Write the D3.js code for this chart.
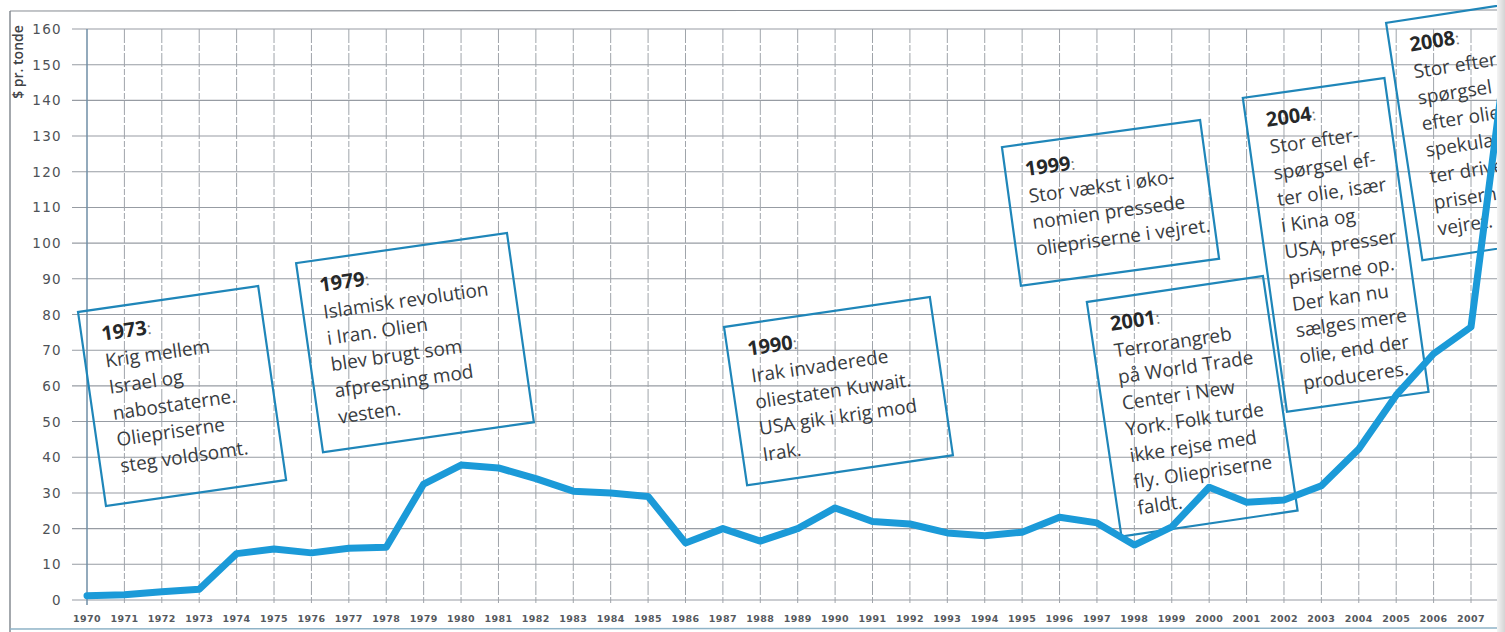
<!DOCTYPE html>
<html>
<head>
<meta charset="utf-8">
<script src="https://cdn.jsdelivr.net/npm/d3@7"></script>
<style>
  body { margin: 0; background: #fff; }
  svg { display: block; }
</style>
</head>
<body>
<svg id="chart" width="1505" height="632"></svg>
<script>
// oil price, $ pr. tonde
const years = d3.range(1970, 2009);
const prices = [1.2, 1.5, 2.3, 3, 13, 14.3, 13.2, 14.5, 14.8, 32.5,
  37.8, 37, 34, 30.5, 30, 29, 16, 20, 16.5, 20,
  25.8, 22, 21.3, 18.8, 18, 19, 23.2, 21.6, 15.4, 20.5,
  31.6, 27.4, 28, 32, 42.3, 57.4, 69, 76.5, 158];
const yTicks = d3.range(0, 161, 10);
const xTickYears = d3.range(1970, 2008);
const yTitle = "$ pr. tonde";

const noteYears = ["1973", "1979", "1990", "1999", "2001", "2004", "2008"];
const noteLines = [
  ["Krig mellem", "Israel og", "nabostaterne.", "Oliepriserne", "steg voldsomt."],
  ["Islamisk revolution", "i Iran. Olien", "blev brugt som", "afpresning mod", "vesten."],
  ["Irak invaderede", "oliestaten Kuwait.", "USA gik i krig mod", "Irak."],
  ["Stor vækst i øko-", "nomien pressede", "oliepriserne i vejret."],
  ["Terrorangreb", "på World Trade", "Center i New", "York. Folk turde", "ikke rejse med", "fly. Oliepriserne", "faldt."],
  ["Stor efter-", "spørgsel ef-", "ter olie, især", "i Kina og", "USA, presser", "priserne op.", "Der kan nu", "sælges mere", "olie, end der", "produceres."],
  ["Stor efter-", "spørgsel", "efter olie,", "spekulan-", "ter driver", "priserne i", "vejret."]
];

// layout of the tilted note boxes: top-left corner in data space, size in px, tilt
const noteAnchor = [[1969.76, 80.7], [1975.59, 94.4], [1987.03, 76.5], [1994.46, 126.9],
  [1996.73, 83.5], [2000.9, 140.7], [2004.73, 161.7]];
const noteSize = [[182, 196], [213, 191], [208, 160], [200, 140], [178, 237], [143, 317], [215, 240]];
const noteTilt = [-8.2, -8.1, -8.3, -7.8, -8.4, -8, -8.7];

const svg = d3.select('#chart');
const x = d3.scaleLinear().domain([1970, 2007]).range([87, 1471]);
const y = d3.scaleLinear().domain([0, 160]).range([600, 29]);

// paper edge shading + frame
const defs = svg.append('defs');
defs.append('clipPath').attr('id', 'paper')
  .append('rect').attr('x', 0).attr('y', 0).attr('width', 1497).attr('height', 632);
const grad = defs.append('linearGradient').attr('id', 'edge');
grad.append('stop').attr('offset', 0).attr('stop-color', '#f4f4f4');
grad.append('stop').attr('offset', 1).attr('stop-color', '#d4d4d4');
svg.append('rect').attr('x', 1497).attr('y', 0).attr('width', 8).attr('height', 632)
  .attr('fill', 'url(#edge)');

const g = svg.append('g').attr('clip-path', 'url(#paper)');

g.append('line').attr('x1', 10).attr('x2', 1505).attr('y1', 11).attr('y2', 10)
  .attr('stroke', '#8a8f96').attr('stroke-width', 1.2);
g.append('line').attr('x1', 10).attr('x2', 10).attr('y1', 11).attr('y2', 632)
  .attr('stroke', '#7d838a').attr('stroke-width', 1.4);
g.append('line').attr('x1', 10).attr('x2', 1505).attr('y1', 629).attr('y2', 628)
  .attr('stroke', '#8fb3c7').attr('stroke-width', 1.5);

// grid
g.append('g')
  .selectAll('line')
  .data(yTicks)
  .join('line')
    .attr('x1', 72).attr('x2', 1505)
    .attr('y1', d => y(d)).attr('y2', d => y(d))
    .attr('stroke', '#979ca3').attr('stroke-width', 1.1);

g.append('g')
  .selectAll('line')
  .data(xTickYears)
  .join('line')
    .attr('x1', d => x(d)).attr('x2', d => x(d))
    .attr('y1', y(160)).attr('y2', y(0) + 5)
    .attr('stroke', d => d === 1970 ? '#6f8ea6' : '#9fa4aa')
    .attr('stroke-width', d => d === 1970 ? 1.5 : 1)
    .attr('stroke-dasharray', d => d === 1970 ? null : '14 2 6 2');

// axis labels
svg.append('g')
  .selectAll('text')
  .data(yTicks)
  .join('text')
    .attr('x', 62).attr('y', d => y(d) + 5)
    .attr('text-anchor', 'end')
    .attr('fill', '#4e5257')
    .style('font', '13.5px "DejaVu Sans"')
    .style('letter-spacing', '1.3px')
    .text(d => d);

svg.append('g')
  .selectAll('text')
  .data(xTickYears)
  .join('text')
    .attr('x', d => x(d)).attr('y', 622)
    .attr('text-anchor', 'middle')
    .attr('fill', '#55595e')
    .style('font', 'bold 9.5px "DejaVu Sans"')
    .style('letter-spacing', '0.4px')
    .text(d => d);

svg.append('text')
  .attr('transform', 'translate(23,62) rotate(-90)')
  .attr('text-anchor', 'middle')
  .attr('fill', '#3f4347')
  .style('font', '600 14px "Open Sans"')
  .text(yTitle);

// note boxes
const notes = g.append('g')
  .selectAll('g')
  .data(noteYears)
  .join('g')
    .attr('transform', (d, i) =>
      `translate(${x(noteAnchor[i][0])},${y(noteAnchor[i][1])}) rotate(${noteTilt[i]})`);

notes.append('rect')
  .attr('width', (d, i) => noteSize[i][0])
  .attr('height', (d, i) => noteSize[i][1])
  .attr('fill', 'none')
  .attr('stroke', '#1f86b9')
  .attr('stroke-width', 2.2);

const title = notes.append('text')
  .attr('x', 20).attr('y', 32)
  .style('font-family', '"Open Sans"');
title.append('tspan')
  .attr('fill', '#262829')
  .style('font-weight', 'bold')
  .style('font-size', '20px')
  .text(d => d);
title.append('tspan')
  .attr('fill', '#777')
  .style('font-size', '16px')
  .text(':');

notes.each(function(d, i) {
  d3.select(this).append('g')
    .selectAll('text')
    .data(noteLines[i])
    .join('text')
      .attr('x', 20)
      .attr('y', (t, j) => 59 + j * 26.5)
      .attr('fill', '#393c3f')
      .style('font', '19px "Open Sans"')
      .text(t => t);
});

// price line
const line = d3.line()
  .x((d, i) => x(years[i]))
  .y(d => y(d));

g.append('path')
  .datum(prices)
  .attr('d', line)
  .attr('fill', 'none')
  .attr('stroke', '#1b9ad8')
  .attr('stroke-width', 7)
  .attr('stroke-linejoin', 'round')
  .attr('stroke-linecap', 'round');
</script>
</body>
</html>
